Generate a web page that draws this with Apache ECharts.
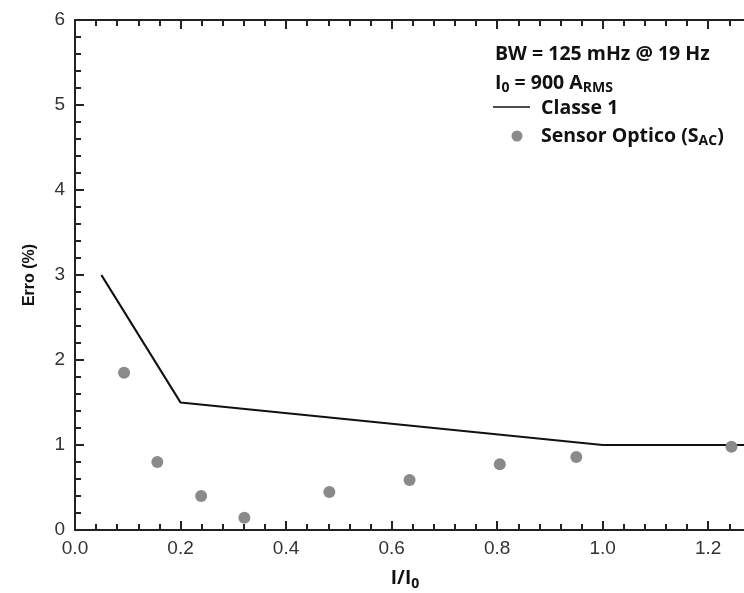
<!DOCTYPE html>
<html><head><meta charset="utf-8">
<script src="https://cdn.jsdelivr.net/npm/echarts@6/dist/echarts.min.js"></script>
<style>html,body{margin:0;padding:0;background:#fff}#c{width:744px;height:593px}</style>
</head><body><div id="c"></div>
<script>
// Classe 1 limit line
var classeX = [0.05, 0.2, 1.0, 1.3];
var classeY = [3.0, 1.5, 1.0, 1.0];
// Sensor Optico (S_AC) points
var sensorX = [0.093, 0.156, 0.239, 0.321, 0.482, 0.634, 0.805, 0.950, 1.244];
var sensorY = [1.85, 0.80, 0.40, 0.145, 0.447, 0.588, 0.773, 0.859, 0.98];
var xTicks = [0.0, 0.2, 0.4, 0.6, 0.8, 1.0, 1.2];
var yTicks = [0, 1, 2, 3, 4, 5, 6];

function zip(a, b) { return a.map(function (v, i) { return [v, b[i]]; }); }

var chart = echarts.init(document.getElementById('c'), null, {renderer: 'canvas'});
var axisCol = '#222';
var labFont = 'Liberation Sans, Arial, sans-serif';
var legFont = 'Open Sans, Lato, sans-serif';
var ptCol = '#8a8a8a';
function axisCommon() {
  return {
    axisLine: {show: true, lineStyle: {color: axisCol, width: 2}},
    axisTick: {show: true, inside: true, length: 9, lineStyle: {color: axisCol, width: 2}},
    minorTick: {show: true, splitNumber: 5, length: 6, lineStyle: {color: axisCol, width: 2}},
    splitLine: {show: false}
  };
}
var xb = Object.assign(axisCommon(), {
  type: 'value', min: 0, max: 1.3, interval: 0.2, position: 'bottom',
  name: '{n|I/I}{s|0}', nameLocation: 'middle', nameGap: 36,
  nameTextStyle: {padding: [0, 26, 0, 0], rich: {
    n: {fontFamily: legFont, fontWeight: 'bold', fontSize: 19, color: '#111'},
    s: {fontFamily: legFont, fontWeight: 'bold', fontSize: 14, color: '#111', verticalAlign: 'bottom', padding: [11, 0, 0, 0]}
  }},
  axisLabel: {showMaxLabel: false, margin: 9, fontFamily: labFont, fontSize: 19, color: '#333',
    formatter: function (v) { return xTicks.indexOf(Math.round(v * 10) / 10) >= 0 ? v.toFixed(1) : ''; }}
});
var xt = Object.assign(axisCommon(), {
  type: 'value', min: 0, max: 1.3, interval: 0.2, position: 'top', axisLabel: {show: false}
});
var ya = Object.assign(axisCommon(), {
  type: 'value', min: 0, max: 6, interval: 1,
  name: 'Erro (%)', nameLocation: 'middle', nameGap: 37,
  nameTextStyle: {fontFamily: labFont, fontWeight: 'bold', fontSize: 16, color: '#111'},
  axisLabel: {margin: 10, fontFamily: labFont, fontSize: 19, color: '#333',
    formatter: function (v) { return yTicks.indexOf(v) >= 0 ? String(v) : ''; }}
});
var rich = {n: {fontFamily: legFont, fontWeight: 'bold', fontSize: 19.5, fill: '#111'},
            s: {fontFamily: legFont, fontWeight: 'bold', fontSize: 14, fill: '#111', verticalAlign: 'bottom', padding: [11, 0, 0, 0]}};
chart.setOption({
  animation: false,
  grid: {left: 75, top: 20, width: 686, height: 510, containLabel: false, outerBoundsMode: 'none'},
  xAxis: [xb, xt],
  yAxis: ya,
  graphic: [
    {type: 'text', left: 495, top: 44, style: {text: '{n|BW = 125 mHz @ 19 Hz}', rich: rich}},
    {type: 'text', left: 495, top: 73, style: {text: '{n|I}{s|0}{n| = 900 A}{s|RMS}', rich: rich}},
    {type: 'line', shape: {x1: 493, y1: 107, x2: 530, y2: 107}, style: {stroke: '#111', lineWidth: 1.5}},
    {type: 'text', left: 541, top: 98, style: {text: '{n|Classe 1}', rich: rich}},
    {type: 'circle', shape: {cx: 517, cy: 136, r: 5.5}, style: {fill: ptCol}},
    {type: 'text', left: 541, top: 126, style: {text: '{n|Sensor Optico (S}{s|AC}{n|)}', rich: rich}}
  ],
  series: [{
    name: 'Classe 1', type: 'line', data: zip(classeX, classeY),
    showSymbol: false, symbol: 'none', lineStyle: {color: '#111', width: 2.2}, z: 2
  }, {
    name: 'Sensor', type: 'scatter', data: zip(sensorX, sensorY),
    symbol: 'circle', symbolSize: 12, itemStyle: {color: ptCol, opacity: 1}, z: 3
  }]
});
</script></body></html>
